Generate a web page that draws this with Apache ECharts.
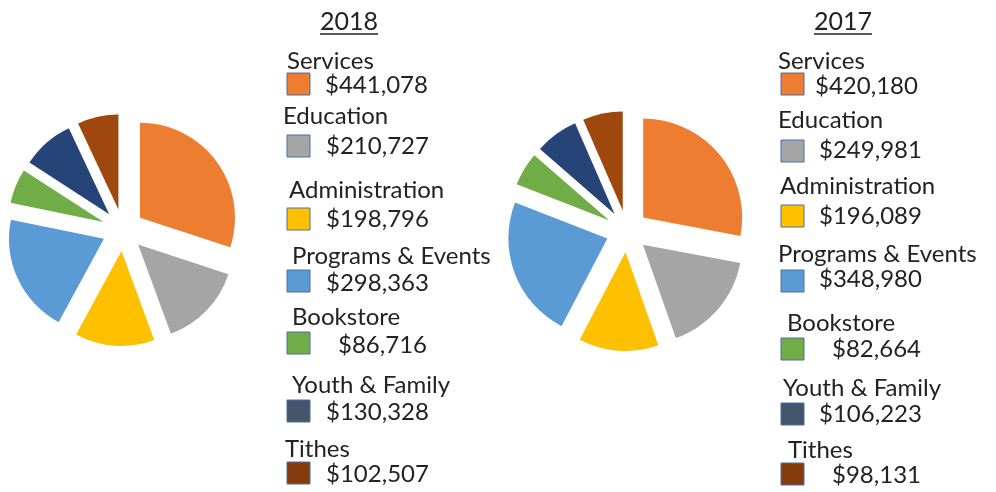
<!DOCTYPE html>
<html>
<head>
<meta charset="utf-8">
<script src="https://cdn.jsdelivr.net/npm/echarts@6/dist/echarts.min.js"></script>
<style>
  html, body { margin: 0; padding: 0; background: #fff; }
  #chart { width: 996px; height: 492px; }
</style>
</head>
<body>
<div id="chart"></div>
<script>
// data
const categories = ['Services', 'Education', 'Administration', 'Programs & Events', 'Bookstore', 'Youth & Family', 'Tithes'];
const values2018 = [441078, 210727, 198796, 298363, 86716, 130328, 102507];
const values2017 = [420180, 249981, 196089, 348980, 82664, 106223, 98131];
const years = ['2018', '2017'];

const colors = ['#ED7D31', '#A5A5A5', '#FFC000', '#5B9BD5', '#70AD47', '#264478', '#9E480E'];
const swatchColors = ['#ED7D31', '#A5A5A5', '#FFC000', '#5B9BD5', '#70AD47', '#44546A', '#843C0C'];

// legend layout (left block = 2018, right block = 2017)
const layout = [
    {
        titleX: 349,
        swatchX: 287,
        swatchTop: [73, 135, 208, 270, 332, 400, 462],
        nameX: [287, 283, 289, 292, 292, 292, 285],
        nameY: [61, 116, 190, 256, 317, 385, 449],
        valueX: [325, 326, 326, 326, 338, 326, 326],
        valueY: [85, 146, 219, 283, 345, 412, 474]
    },
    {
        titleX: 843,
        swatchX: 781,
        swatchTop: [73, 140, 205, 270, 338, 403, 463],
        nameX: [778, 778, 780, 778, 787, 783, 788],
        nameY: [61, 120, 186, 254, 323, 388, 450],
        valueX: [815, 819, 819, 819, 832, 819, 832],
        valueY: [86, 150, 216, 279, 349, 414, 475]
    }
]

const font = 'Lato, "Open Sans", sans-serif'
const chart = echarts.init(document.getElementById('chart'))

function pieData(values) {
    return categories.map((name, i) => ({
        name: name,
        value: values[i],
        selected: true,
        itemStyle: { color: colors[i] }
    }))
}

function makePie(values, center, r) {
    return {
        type: 'pie',
        center: center,
        radius: r,
        startAngle: 90,
        clockwise: true,
        selectedMode: 'multiple',
        selectedOffset: 21,
        label: { show: false },
        labelLine: { show: false },
        emphasis: { disabled: true },
        silent: true,
        data: pieData(values)
    }
}

// legend blocks built from the arrays
const graphics = []
const allValues = [values2018, values2017]
layout.forEach((lay, k) => {
    graphics.push({
        type: 'text',
        left: lay.titleX - 29,
        top: 9,
        style: { text: years[k], font: '25px ' + font, fill: '#222' }
    })
    graphics.push({
        type: 'line',
        shape: { x1: lay.titleX - 29, y1: 34, x2: lay.titleX + 29, y2: 34 },
        style: { stroke: '#222', lineWidth: 1.5 }
    })
    categories.forEach((name, i) => {
        graphics.push({
            type: 'text',
            x: lay.nameX[i],
            y: lay.nameY[i],
            style: { text: name, font: '24px ' + font, fill: '#222', textVerticalAlign: 'middle' }
        })
        graphics.push({
            type: 'rect',
            shape: { x: lay.swatchX, y: lay.swatchTop[i], width: 23, height: 22 },
            style: { fill: swatchColors[i], stroke: '#4a6fa5', lineWidth: 1 }
        })
        graphics.push({
            type: 'text',
            x: lay.valueX[i],
            y: lay.valueY[i],
            style: {
                text: '$' + allValues[k][i].toLocaleString('en-US'),
                font: '24px ' + font,
                fill: '#222',
                textVerticalAlign: 'middle'
            }
        })
    })
})

chart.setOption({
    animation: false,
    series: [
        makePie(values2018, [123, 230], 95),
        makePie(values2017, [627, 231], 99)
    ],
    graphic: graphics
})
</script>
</body>
</html>
